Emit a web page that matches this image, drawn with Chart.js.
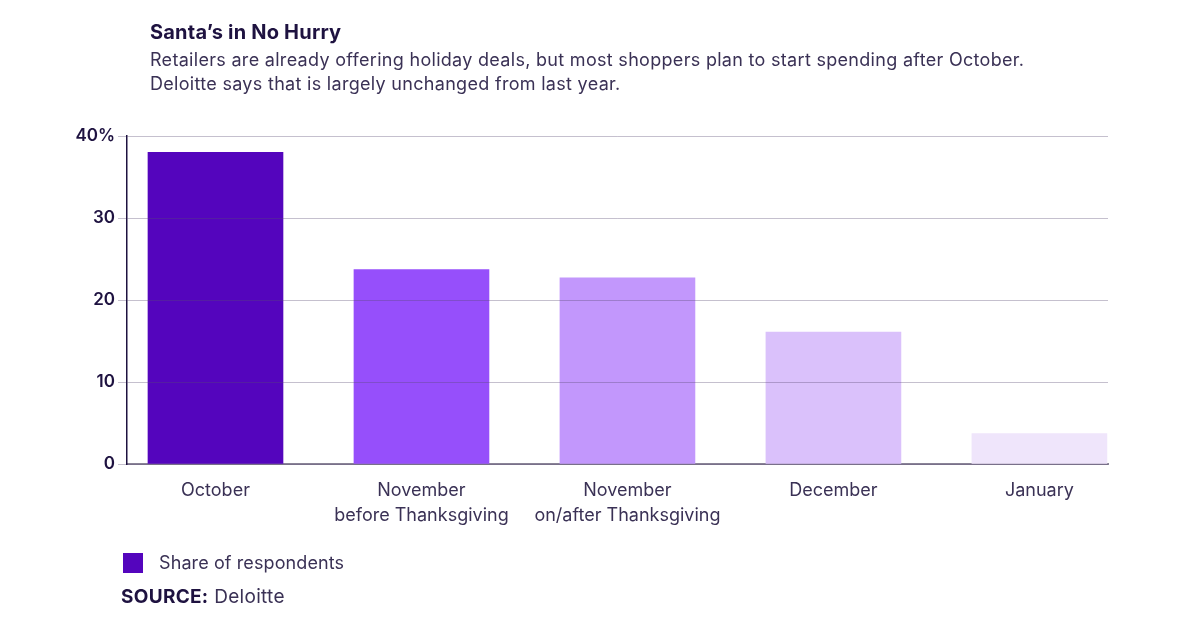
<!DOCTYPE html>
<html>
<head>
<meta charset="utf-8">
<script src="https://cdn.jsdelivr.net/npm/chart.js@4"></script>
<style>
  html, body { margin: 0; padding: 0; background: #fff; }
  body { width: 1200px; height: 628px; position: relative; overflow: hidden; font-family: "Inter", sans-serif; color: #1e1240; }
  #wrap { position: absolute; left: 0; top: 0; width: 1200px; height: 628px; }
  .t { position: absolute; white-space: nowrap; }
  #title { left: 150px; top: 20px; font-size: 20px; font-weight: 700; color: #1e1240; letter-spacing: 0.2px; }
  #sub { left: 150px; top: 48px; font-size: 18px; line-height: 24px; color: #3a3155; font-weight: 400; letter-spacing: 0.3px; }
  #legend { left: 123px; top: 552px; font-size: 18px; color: #3a3155; letter-spacing: 0.1px; }
  #legend .sw { display: inline-block; width: 20px; height: 20px; background: #5405bd; vertical-align: middle; margin-right: 16px; position: relative; top: -1px; }
  #source { left: 121px; top: 585px; font-size: 19px; color: #3a3155; letter-spacing: 0.3px; }
  #source b { color: #1e1240; font-weight: 700; }
</style>
</head>
<body>
<div id="wrap"><canvas id="c" width="1200" height="628"></canvas></div>
<div class="t" id="title">Santa’s in No Hurry</div>
<div class="t" id="sub">Retailers are already offering holiday deals, but most shoppers plan to start spending after October.<br>Deloitte says that is largely unchanged from last year.</div>
<div class="t" id="legend"><span class="sw"></span>Share of respondents</div>
<div class="t" id="source"><b>SOURCE:</b> Deloitte</div>
<script>
const categories = [["October"], ["November", "before Thanksgiving"], ["November", "on/after Thanksgiving"], ["December"], ["January"]];
const values = [38.0, 23.7, 22.7, 16.1, 3.7];
const barColors = ["#5405bd", "#964ffb", "#c297fc", "#dac1fb", "#efe5fb"];
const yTicks = [0, 10, 20, 30, 40];

const points = values.map((v, i) => ({ x: i, y: v }));

new Chart(document.getElementById("c"), {
  type: "bar",
  data: {
    datasets: [{
      label: "Share of respondents",
      data: points,
      backgroundColor: barColors,
      borderWidth: 0,
      barThickness: 135
    }]
  },
  options: {
    responsive: false,
    animation: false,
    layout: { padding: { left: 67, top: 136, right: 92, bottom: 84 } },
    plugins: { legend: { display: false }, tooltip: { enabled: false } },
    scales: {
      x: {
        type: "linear",
        offset: false,
        min: -0.4296,
        max: 4.333,
        afterBuildTicks: (s) => { s.ticks = categories.map((_, i) => ({ value: i })); },
        afterFit: (s) => { s.height = 80; },
        grid: { display: false, drawTicks: false },
        border: { display: true, color: "#8a8497", width: 2 },
        ticks: {
          padding: 14,
          autoSkip: false,
          maxRotation: 0,
          color: "#3a3155",
          font: { family: "Inter", size: 18, lineHeight: 1.38 },
          callback: (v) => categories[v]
        }
      },
      y: {
        min: 0,
        max: 40,
        afterBuildTicks: (s) => { s.ticks = yTicks.map(v => ({ value: v })); },
        afterFit: (s) => { s.width = 60; },
        grid: { color: "rgba(90,75,115,0.35)", lineWidth: 1, tickLength: 9, z: 1 },
        border: { display: true, color: "#1e1240", width: 1.5, z: 1 },
        ticks: {
          padding: 3,
          color: "#1e1240",
          font: { family: "Inter", size: 17, weight: "600" },
          callback: (v) => v === 40 ? "40%" : String(v)
        }
      }
    }
  }
});
</script>
</body>
</html>
